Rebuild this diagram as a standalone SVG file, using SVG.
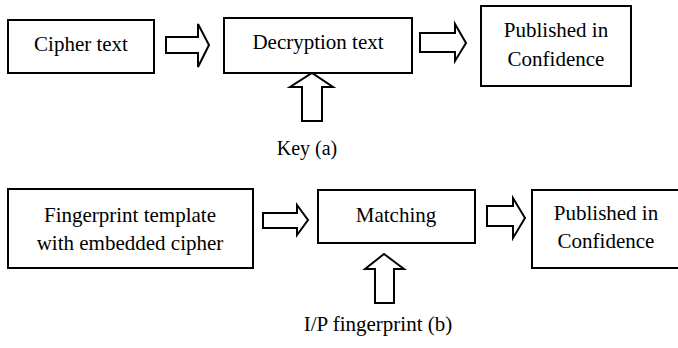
<svg xmlns="http://www.w3.org/2000/svg" width="678" height="348" viewBox="0 0 678 348">
<style>
.box{fill:#fff;stroke:#000;stroke-width:2}
.arr{fill:#fff;stroke:#000;stroke-width:2;stroke-linejoin:miter}
</style>
<rect width="678" height="348" fill="#fff"/>
<g id="connectors">
<polygon class="arr" points="166,37 198,37 198,24 209,45 198,67 198,53 166,53"/>
<polygon class="arr" points="420,33 455,33 455,24 466,43 455,61 455,52 420,52"/>
<polygon class="arr" points="302,121 302,87 290,87 312,73 333,87 322,87 322,121"/>
<polygon class="arr" points="263,213 297,213 297,205 308,220 297,235 297,228 263,228"/>
<polygon class="arr" points="487,206 513,206 513,198 525,218 513,238 513,226 487,226"/>
<polygon class="arr" points="375,303 375,269 365,269 384,254 404,269 394,269 394,303"/>
</g>
<g font-family="Liberation Serif, serif" font-size="21" fill="#000" text-anchor="middle">
<g id="cipher">
<rect class="box" x="8" y="20" width="146" height="53"/>
<text x="81" y="51">Cipher text</text>
</g>
<g id="decryption">
<rect class="box" x="224" y="18" width="188" height="55"/>
<text x="318" y="49">Decryption text</text>
</g>
<g id="published1">
<rect class="box" x="481" y="6" width="150" height="80"/>
<text x="556" y="37">Published in</text>
<text x="556" y="66">Confidence</text>
</g>
<g id="key">
<text x="307" y="155" font-size="20">Key (a)</text>
</g>
<g id="fingerprint">
<rect class="box" x="8" y="189" width="245" height="79"/>
<text x="130" y="222">Fingerprint template</text>
<text x="130" y="250">with embedded cipher</text>
</g>
<g id="matching">
<rect class="box" x="318" y="190" width="157" height="53"/>
<text x="396" y="222">Matching</text>
</g>
<g id="published2">
<rect class="box" x="532" y="190" width="150" height="78"/>
<text x="606" y="220">Published in</text>
<text x="606" y="248">Confidence</text>
</g>
<g id="ip">
<text x="378" y="331">I/P fingerprint (b)</text>
</g>
</g>
</svg>
